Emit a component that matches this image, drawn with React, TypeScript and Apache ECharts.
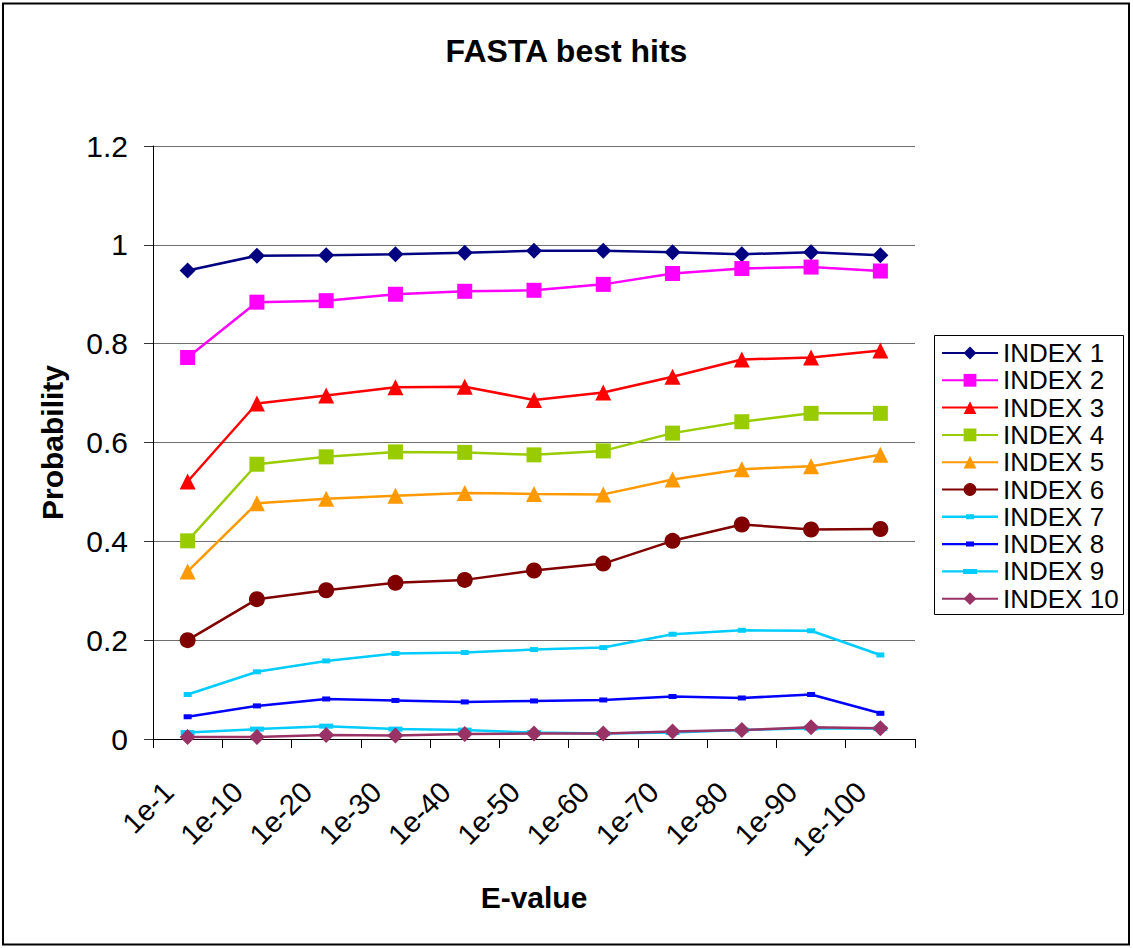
import React, { useEffect, useRef } from "react";
import * as echarts from "echarts";

// E-value thresholds along the category axis
const categories = ["1e-1", "1e-10", "1e-20", "1e-30", "1e-40", "1e-50", "1e-60", "1e-70", "1e-80", "1e-90", "1e-100"];

// Probability of a best hit, per index
const index1 = [0.948, 0.978, 0.979, 0.981, 0.984, 0.988, 0.988, 0.985, 0.981, 0.985, 0.979];
const index2 = [0.772, 0.884, 0.887, 0.9, 0.906, 0.908, 0.92, 0.942, 0.952, 0.955, 0.947];
const index3 = [0.521, 0.679, 0.695, 0.712, 0.713, 0.686, 0.701, 0.733, 0.768, 0.772, 0.786];
const index4 = [0.401, 0.556, 0.571, 0.581, 0.58, 0.575, 0.583, 0.619, 0.642, 0.659, 0.659];
const index5 = [0.339, 0.477, 0.486, 0.492, 0.498, 0.496, 0.495, 0.525, 0.546, 0.552, 0.575];
const index6 = [0.2, 0.283, 0.301, 0.316, 0.322, 0.341, 0.355, 0.401, 0.434, 0.424, 0.425];
const index7 = [0.09, 0.136, 0.158, 0.173, 0.175, 0.181, 0.185, 0.212, 0.22, 0.219, 0.17];
const index8 = [0.045, 0.067, 0.081, 0.078, 0.075, 0.077, 0.079, 0.086, 0.083, 0.09, 0.052];
const index9 = [0.013, 0.02, 0.026, 0.02, 0.018, 0.013, 0.011, 0.013, 0.018, 0.022, 0.021];
const index10 = [0.004, 0.004, 0.008, 0.007, 0.01, 0.011, 0.011, 0.015, 0.018, 0.024, 0.022];

const FONT = "'Liberation Sans', Arial, sans-serif";

// legend icon for the series drawn with small flat markers: a line with a short bar on it
const flatIcon = (markerW: number) => {
  const x0 = (56 - markerW) / 2;
  return (
    "path://M0 0h0.01v0.01h-0.01z M55.99 15.99h0.01v0.01h-0.01z " +
    "M0 6.8h56v2.4h-56z " +
    `M${x0} 5.5h${markerW}v5h-${markerW}z`
  );
};

type SeriesDef = {
  name: string;
  data: number[];
  color: string;
  symbol: string;
  size: number | number[];
  icon?: string;
};

const seriesDefs: SeriesDef[] = [
  { name: "INDEX 1", data: index1, color: "#000080", symbol: "diamond", size: 16 },
  { name: "INDEX 2", data: index2, color: "#FF00FF", symbol: "rect", size: 15 },
  { name: "INDEX 3", data: index3, color: "#FF0000", symbol: "triangle", size: 16 },
  { name: "INDEX 4", data: index4, color: "#99CC00", symbol: "rect", size: 15 },
  { name: "INDEX 5", data: index5, color: "#FF9900", symbol: "triangle", size: 16 },
  { name: "INDEX 6", data: index6, color: "#800000", symbol: "circle", size: 16 },
  { name: "INDEX 7", data: index7, color: "#00CCFF", symbol: "rect", size: [8, 5], icon: flatIcon(8) },
  { name: "INDEX 8", data: index8, color: "#0000FF", symbol: "rect", size: [8, 5], icon: flatIcon(8) },
  { name: "INDEX 9", data: index9, color: "#00CCFF", symbol: "rect", size: [14, 5], icon: flatIcon(14) },
  { name: "INDEX 10", data: index10, color: "#993366", symbol: "diamond", size: 16 },
];

export default function App() {
  const ref = useRef<HTMLDivElement>(null);

  useEffect(() => {
    if (!ref.current) return;
    const chart = echarts.init(ref.current, null, { renderer: "svg" });

    chart.setOption({
      animation: false,
      backgroundColor: "#ffffff",
      textStyle: { fontFamily: FONT },
      title: {
        text: "FASTA best hits",
        left: "center",
        top: 30,
        textStyle: { fontFamily: FONT, fontSize: 32, fontWeight: "bold", color: "#000" },
      },
      grid: { left: 153, right: 218, top: 146, bottom: 209, containLabel: false },
      legend: {
        orient: "vertical",
        left: 941,
        top: 340,
        padding: 0,
        itemWidth: 56,
        itemHeight: 16,
        itemGap: 1.3,
        borderWidth: 0,
        textStyle: { fontFamily: FONT, fontSize: 26, lineHeight: 26, color: "#000" },
        data: seriesDefs.map((s) => (s.icon ? { name: s.name, icon: s.icon } : { name: s.name })),
      },
      xAxis: {
        type: "category",
        data: categories,
        boundaryGap: true,
        name: "E-value",
        nameLocation: "middle",
        nameGap: 143,
        nameTextStyle: { fontFamily: FONT, fontSize: 30, fontWeight: "bold", color: "#000" },
        axisLine: { show: true, lineStyle: { color: "#000", width: 1 } },
        axisTick: { show: true, inside: false, length: 9, interval: 0, lineStyle: { color: "#000" } },
        axisLabel: {
          interval: 0,
          rotate: 45,
          margin: 29,
          padding: [0, 27, 0, 0],
          fontFamily: FONT,
          fontSize: 29,
          color: "#000",
        },
        splitLine: { show: false },
      },
      yAxis: {
        type: "value",
        min: 0,
        max: 1.2,
        interval: 0.2,
        name: "Probability",
        nameLocation: "middle",
        nameRotate: 90,
        nameGap: 86,
        nameTextStyle: { fontFamily: FONT, fontSize: 30, fontWeight: "bold", color: "#000" },
        axisLine: { show: true, lineStyle: { color: "#000", width: 1 } },
        axisTick: { show: true, inside: false, length: 9, lineStyle: { color: "#333" } },
        axisLabel: { margin: 25, fontFamily: FONT, fontSize: 30, color: "#000" },
        splitLine: { show: true, lineStyle: { color: "#6e6e6e", width: 1 } },
      },
      graphic: [
        {
          type: "rect",
          shape: { x: 3, y: 3.5, width: 1126, height: 941 },
          style: { fill: "none", stroke: "#000", lineWidth: 2 },
          silent: true,
        },
        {
          type: "rect",
          shape: { x: 934.5, y: 335.5, width: 189, height: 279 },
          style: { fill: "none", stroke: "#000", lineWidth: 1 },
          silent: true,
        },
      ],
      series: seriesDefs.map((s) => ({
        name: s.name,
        type: "line",
        data: s.data,
        symbol: s.symbol,
        symbolSize: s.size,
        showSymbol: true,
        showAllSymbol: true,
        color: s.color,
        lineStyle: { color: s.color, width: 2.5 },
        itemStyle: { color: s.color },
        emphasis: { disabled: true },
      })),
    });

    return () => chart.dispose();
  }, []);

  return (
    <div
      ref={ref}
      style={{ position: "absolute", left: 0, top: 0, width: 1133, height: 948, background: "#fff" }}
    />
  );
}
